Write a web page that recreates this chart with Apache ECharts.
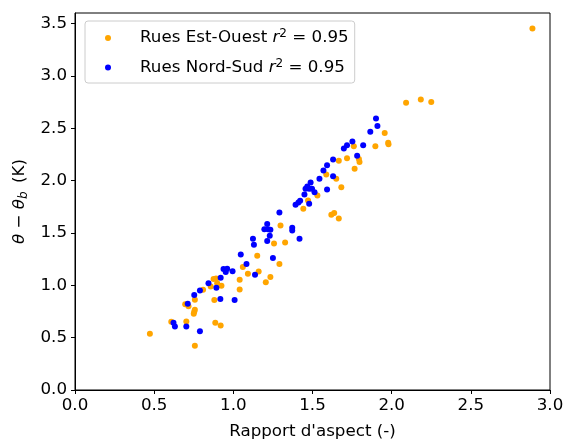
<!DOCTYPE html>
<html>
<head>
<meta charset="utf-8">
<script src="https://cdn.jsdelivr.net/npm/echarts@6/dist/echarts.min.js"></script>
<style>
  html, body { margin: 0; padding: 0; background: #fff; }
  #chart { width: 563px; height: 441px; }
</style>
</head>
<body>
<div id="chart"></div>
<script>
var xTicks = [0, 0.5, 1.0, 1.5, 2.0, 2.5, 3.0];
var yTicks = [0, 0.5, 1.0, 1.5, 2.0, 2.5, 3.0, 3.5];

// Rues Est-Ouest  [rapport d'aspect, theta - theta_b]
var estOuest = [
  [0.473, 0.537], [0.608, 0.652], [0.703, 0.655], [0.696, 0.82], [0.717, 0.80],
  [0.757, 0.862], [0.753, 0.747], [0.757, 0.766], [0.75, 0.728], [0.757, 0.423],
  [0.809, 0.957], [0.857, 0.989], [0.875, 1.06], [0.891, 1.065], [0.88, 0.859],
  [0.886, 0.642], [0.92, 0.617], [0.925, 0.995], [0.898, 1.02], [1.04, 1.053],
  [1.04, 0.96], [1.06, 1.174], [1.092, 1.11], [1.151, 1.282], [1.16, 1.132],
  [1.205, 1.03], [1.234, 1.078], [1.257, 1.40], [1.291, 1.202], [1.298, 1.571],
  [1.327, 1.409], [1.442, 1.73], [1.472, 1.81], [1.531, 1.857], [1.587, 2.058],
  [1.619, 1.673], [1.637, 1.689], [1.666, 1.638], [1.65, 2.017], [1.682, 1.937],
  [1.666, 2.188], [1.718, 2.214], [1.766, 2.112], [1.761, 2.328], [1.793, 2.207],
  [1.797, 2.176], [1.897, 2.328], [1.956, 2.455], [1.978, 2.36], [1.98, 2.347],
  [2.091, 2.742], [2.184, 2.774], [2.25, 2.751], [2.889, 3.451]
];

// Rues Nord-Sud
var nordSud = [
  [0.622, 0.642], [0.631, 0.607], [0.703, 0.607], [0.712, 0.824], [0.753, 0.906],
  [0.789, 0.951], [0.789, 0.56], [0.843, 1.02], [0.893, 0.976], [0.92, 1.072],
  [0.918, 0.868], [0.938, 1.155], [0.952, 1.126], [0.961, 1.158], [0.995, 1.135],
  [1.008, 0.859], [1.047, 1.295], [1.083, 1.202], [1.124, 1.444], [1.13, 1.387],
  [1.137, 1.10], [1.196, 1.536], [1.214, 1.584], [1.219, 1.536], [1.23, 1.473],
  [1.214, 1.422], [1.234, 1.53], [1.25, 1.26], [1.291, 1.695], [1.372, 1.549],
  [1.372, 1.524], [1.418, 1.444], [1.393, 1.768], [1.411, 1.791], [1.422, 1.807],
  [1.449, 1.867], [1.456, 1.921], [1.467, 1.943], [1.479, 1.921], [1.488, 1.982],
  [1.497, 1.921], [1.513, 1.889], [1.479, 1.778], [1.544, 2.017], [1.569, 2.096],
  [1.592, 2.147], [1.592, 1.915], [1.63, 2.201], [1.63, 2.042], [1.698, 2.306],
  [1.718, 2.338], [1.752, 2.373], [1.782, 2.236], [1.82, 2.338], [1.865, 2.465],
  [1.901, 2.592], [1.91, 2.522]
];

var seriesNames = ['Rues Est-Ouest', 'Rues Nord-Sud'];
var r2 = ['0.95', '0.95'];

var font = 'DejaVu Sans';
var fs = 16.7;
var myChart = echarts.init(document.getElementById('chart'));

myChart.setOption({
  animation: false,
  textStyle: { fontFamily: font },
  grid: {
    left: 75, right: 13, top: 13, bottom: 51,
    outerBoundsMode: 'none',
    containLabel: false,
    show: true, borderColor: '#000', borderWidth: 1, backgroundColor: 'transparent'
  },
  legend: {
    orient: 'vertical',
    left: 85, top: 21,
    padding: [7, 6, 7, 20],
    itemGap: 11,
    itemWidth: 6, itemHeight: 6,
    icon: 'circle',
    backgroundColor: 'rgba(255,255,255,0.8)',
    borderColor: '#cccccc', borderWidth: 1, borderRadius: 3,
    data: seriesNames,
    formatter: function (name) {
      var i = seriesNames.indexOf(name);
      return '{sp|}{t|' + name + ' }{i|r}{sup|2}{t| = ' + r2[i] + '}';
    },
    textStyle: {
      fontFamily: font,
      fontSize: fs,
      color: '#000',
      rich: {
        sp: { width: 24 },
        t: { fontSize: fs, fontFamily: font, lineHeight: 20 },
        i: { fontSize: fs, fontFamily: font, fontStyle: 'italic', lineHeight: 20 },
        sup: { fontSize: 12, fontFamily: font, verticalAlign: 'top', lineHeight: 12 }
      }
    }
  },
  xAxis: {
    type: 'value',
    min: 0, max: 3, interval: 0.5,
    name: 'Rapport d\'aspect (-)',
    nameLocation: 'middle',
    nameGap: 33,
    nameTextStyle: { fontSize: fs, color: '#000', fontFamily: font },
    axisLine: { lineStyle: { color: '#000' } },
    axisTick: { show: true, inside: false, length: 4, lineStyle: { color: '#000' } },
    axisLabel: {
      fontSize: fs, color: '#000', margin: 7, fontFamily: font,
      formatter: function (v) { return v.toFixed(1); }
    },
    splitLine: { show: false }
  },
  yAxis: {
    type: 'value',
    min: 0, max: 3.6, interval: 0.5,
    name: '{i|θ} − {i|θ}{sub|b} (K)',
    nameLocation: 'middle',
    nameGap: 45,
    nameTextStyle: {
      fontSize: fs, color: '#000', fontFamily: font,
      rich: {
        i: { fontSize: fs, fontStyle: 'italic', fontFamily: font, lineHeight: 20 },
        sub: { fontSize: 12, fontStyle: 'italic', fontFamily: font, verticalAlign: 'bottom', lineHeight: 8, padding: [0, 3, 0, 0] }
      }
    },
    axisLine: { lineStyle: { color: '#000' } },
    axisTick: { show: true, inside: false, length: 4, lineStyle: { color: '#000' } },
    axisLabel: {
      fontSize: fs, color: '#000', margin: 8, fontFamily: font,
      showMaxLabel: false,
      formatter: function (v) { return yTicks.indexOf(v) >= 0 ? v.toFixed(1) : ''; }
    },
    splitLine: { show: false }
  },
  series: [
    {
      name: seriesNames[0],
      type: 'scatter',
      symbolSize: 6,
      itemStyle: { color: '#FFA500', opacity: 1 },
      data: estOuest
    },
    {
      name: seriesNames[1],
      type: 'scatter',
      symbolSize: 6,
      itemStyle: { color: '#0000FF', opacity: 1 },
      data: nordSud
    }
  ]
});
</script>
</body>
</html>
